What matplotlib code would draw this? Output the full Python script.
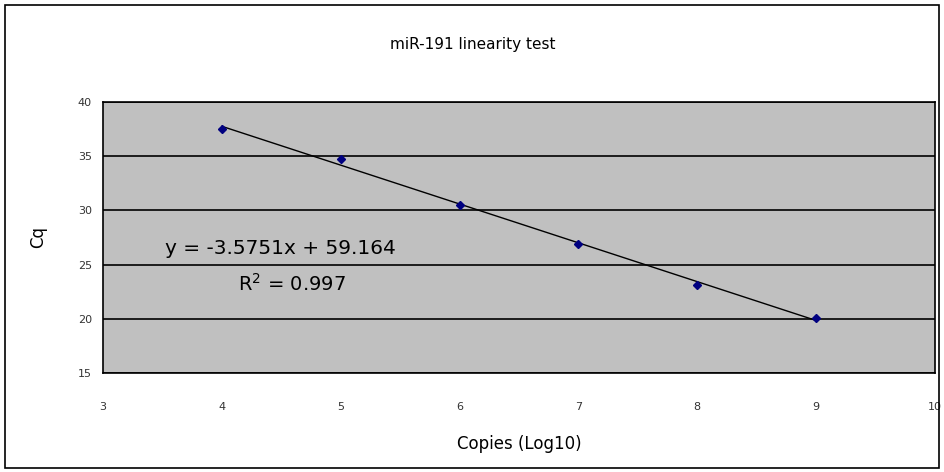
import numpy as np
import matplotlib
matplotlib.use("Agg")
from matplotlib import pyplot as plt
from matplotlib.patches import Rectangle

copies = [4, 5, 6, 7, 8, 9]
cq = [37.5, 34.7, 30.5, 26.9, 23.1, 20.1]
yticks = [15, 20, 25, 30, 35, 40]
xticks = [3, 4, 5, 6, 7, 8, 9, 10]

W, H = 945, 472
fig = plt.figure(figsize=(9.45, 4.72), dpi=100)
fig.patch.set_facecolor("white")
fig.patches.append(Rectangle((5 / W, 4 / H), 934 / W, 463 / H, transform=fig.transFigure,
                             fill=False, edgecolor="black", linewidth=1.2))

ax = fig.add_axes([103 / W, 1 - 373 / H, 832 / W, 271 / H])
ax.set_facecolor("#c0c0c0")
ax.set_xlim(3, 10)
ax.set_ylim(15, 40)
ax.set_xticks(xticks)
ax.set_yticks(yticks)
ax.grid(axis="y", color="black", linewidth=1.2)
ax.set_axisbelow(True)
for s in ax.spines.values():
    s.set_color("black")
    s.set_linewidth(1.2)
ax.tick_params(axis="both", length=0, labelsize=8, colors="#333333")
ax.tick_params(axis="x", pad=21)
ax.tick_params(axis="y", pad=8)

# trendline
k, b = np.polyfit(copies, cq, 1)
xs = np.array([copies[0], copies[-1]])
ax.plot(xs, k * xs + b, color="black", linewidth=1)
ax.plot(copies, cq, linestyle="none", marker="D", markersize=4, color="#000080")

fig.text(165 / W, 1 - 249 / H, "y = -3.5751x + 59.164", fontsize=14.5, va="center", ha="left")
fig.text(238 / W, 1 - 284 / H, "R$^2$ = 0.997", fontsize=14, va="center", ha="left")

fig.text(0.5, 1 - 44 / H, "miR-191 linearity test", ha="center", va="center", fontsize=11)
fig.text(519 / W, 1 - 444 / H, "Copies (Log10)", ha="center", va="center", fontsize=12)
fig.text(38 / W, 1 - 237 / H, "Cq", ha="center", va="center", fontsize=12, rotation=90)

fig.savefig("out.png", dpi=100)
